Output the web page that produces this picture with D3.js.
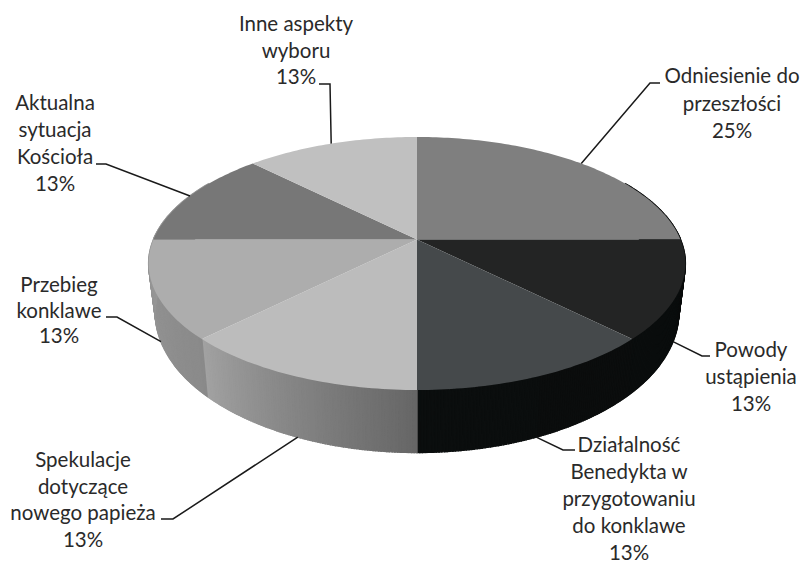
<!DOCTYPE html>
<html><head><meta charset="utf-8">
<script src="https://cdn.jsdelivr.net/npm/d3@7"></script>
<style>html,body{margin:0;padding:0;background:#fff}svg{display:block}</style>
</head><body><svg id="c" width="801" height="563"></svg>
<script>
const categories=["Odniesienie do przeszłości","Powody ustąpienia","Działalność Benedykta w przygotowaniu do konklawe","Spekulacje dotyczące nowego papieża","Przebieg konklawe","Aktualna sytuacja Kościoła","Inne aspekty wyboru"];
const values=[25,12.5,12.5,12.5,12.5,12.5,12.5];
const valueLabels=["25%","13%","13%","13%","13%","13%","13%"];
const topColors=["#7f7f7f","#232424","#45494b","#bcbcbc","#adadad","#777777","#c0c0c0"];
const labelLines=[["Odniesienie do","przeszłości"],["Powody","ustąpienia"],["Działalność","Benedykta w","przygotowaniu","do konklawe"],["Spekulacje","dotyczące","nowego papieża"],["Przebieg","konklawe"],["Aktualna","sytuacja","Kościoła"],["Inne aspekty","wyboru"]];
const labelCenters=[[732,83],[751,357],[629,452],[83,467],[59,292],[55,110],[296,31]];
const lineGaps=[27.5,27,27,26.7,25.5,27,26.5];
const elbows=[[[650,83],[660,83]],[[702,356],[710,356]],[[563,450],[575,450]],[[173,519],[161,519]],[[117,317],[106,317]],[[106,164],[96,164]],[[330,84],[319,84]]];
const lineOnBottom=[false,true,true,true,true,false,false];
const sideStops=[[0,"#0a0c0c"],[0.5,"#0b0e0e"],[0.5,"#666666"],[0.75,"#a2a2a2"],[0.75,"#8a8a8a"],[1,"#989898"]];

const svg=d3.select("#c");
const p=0.1897;
const project=(a,R,K,y0)=>{const u=Math.sin(a),v=Math.cos(a),w=1+p*v;return [417+R*u/w,y0-K*v/w];};
const topPt=a=>project(a,263.5,121.95,239.5);
const botPt=a=>project(a,257,134.9,286);
const arcs=d3.pie().value(d=>d).sort(null)(values);

const tFrac=d3.scaleLinear().domain([Math.PI/2,3*Math.PI/2]).range([0,1]);
function sideColor(a){
  const t=Math.max(0,Math.min(1,tFrac(a)));
  for(let i=1;i<sideStops.length;i++){
    if(t<=sideStops[i][0]){
      const [t0,c0]=sideStops[i-1],[t1,c1]=sideStops[i];
      return t1===t0?c1:d3.interpolateRgb(c0,c1)((t-t0)/(t1-t0));
    }
  }
  return sideStops[sideStops.length-1][1];
}
const step=Math.PI/360;
for(let a=Math.PI/3;a<5*Math.PI/3;a+=step){
  const q=[topPt(a),topPt(a+step),botPt(a+step),botPt(a)];
  const c=sideColor(a+step/2);
  svg.append("path").attr("d",d3.line()(q)+"Z").attr("fill",c).attr("stroke",c).attr("stroke-width",1.4);
}
arcs.forEach((d,i)=>{
  const pts=[[417,239.5]];
  for(let a=d.startAngle;a<=d.endAngle+1e-6;a+=Math.PI/180)pts.push(topPt(a));
  svg.append("path").attr("d",d3.line()(pts)+"Z").attr("fill",topColors[i]);
});
arcs.forEach((d,i)=>{
  const m=(d.startAngle+d.endAngle)/2;
  const start=lineOnBottom[i]?botPt(m):topPt(m);
  svg.append("path").attr("d",d3.line()([start,...elbows[i]])).attr("fill","none").attr("stroke","#1a1a1a").attr("stroke-width",1.5);
  const lines=[...labelLines[i],valueLabels[i]];
  const [cx,top]=labelCenters[i];
  const t=svg.append("text").attr("text-anchor","middle").attr("font-family","Lato").attr("font-size",20.5).attr("fill","#2a2a2a");
  lines.forEach((s,k)=>t.append("tspan").attr("x",cx).attr("y",top+k*lineGaps[i]).text(s));
});
</script></body></html>
